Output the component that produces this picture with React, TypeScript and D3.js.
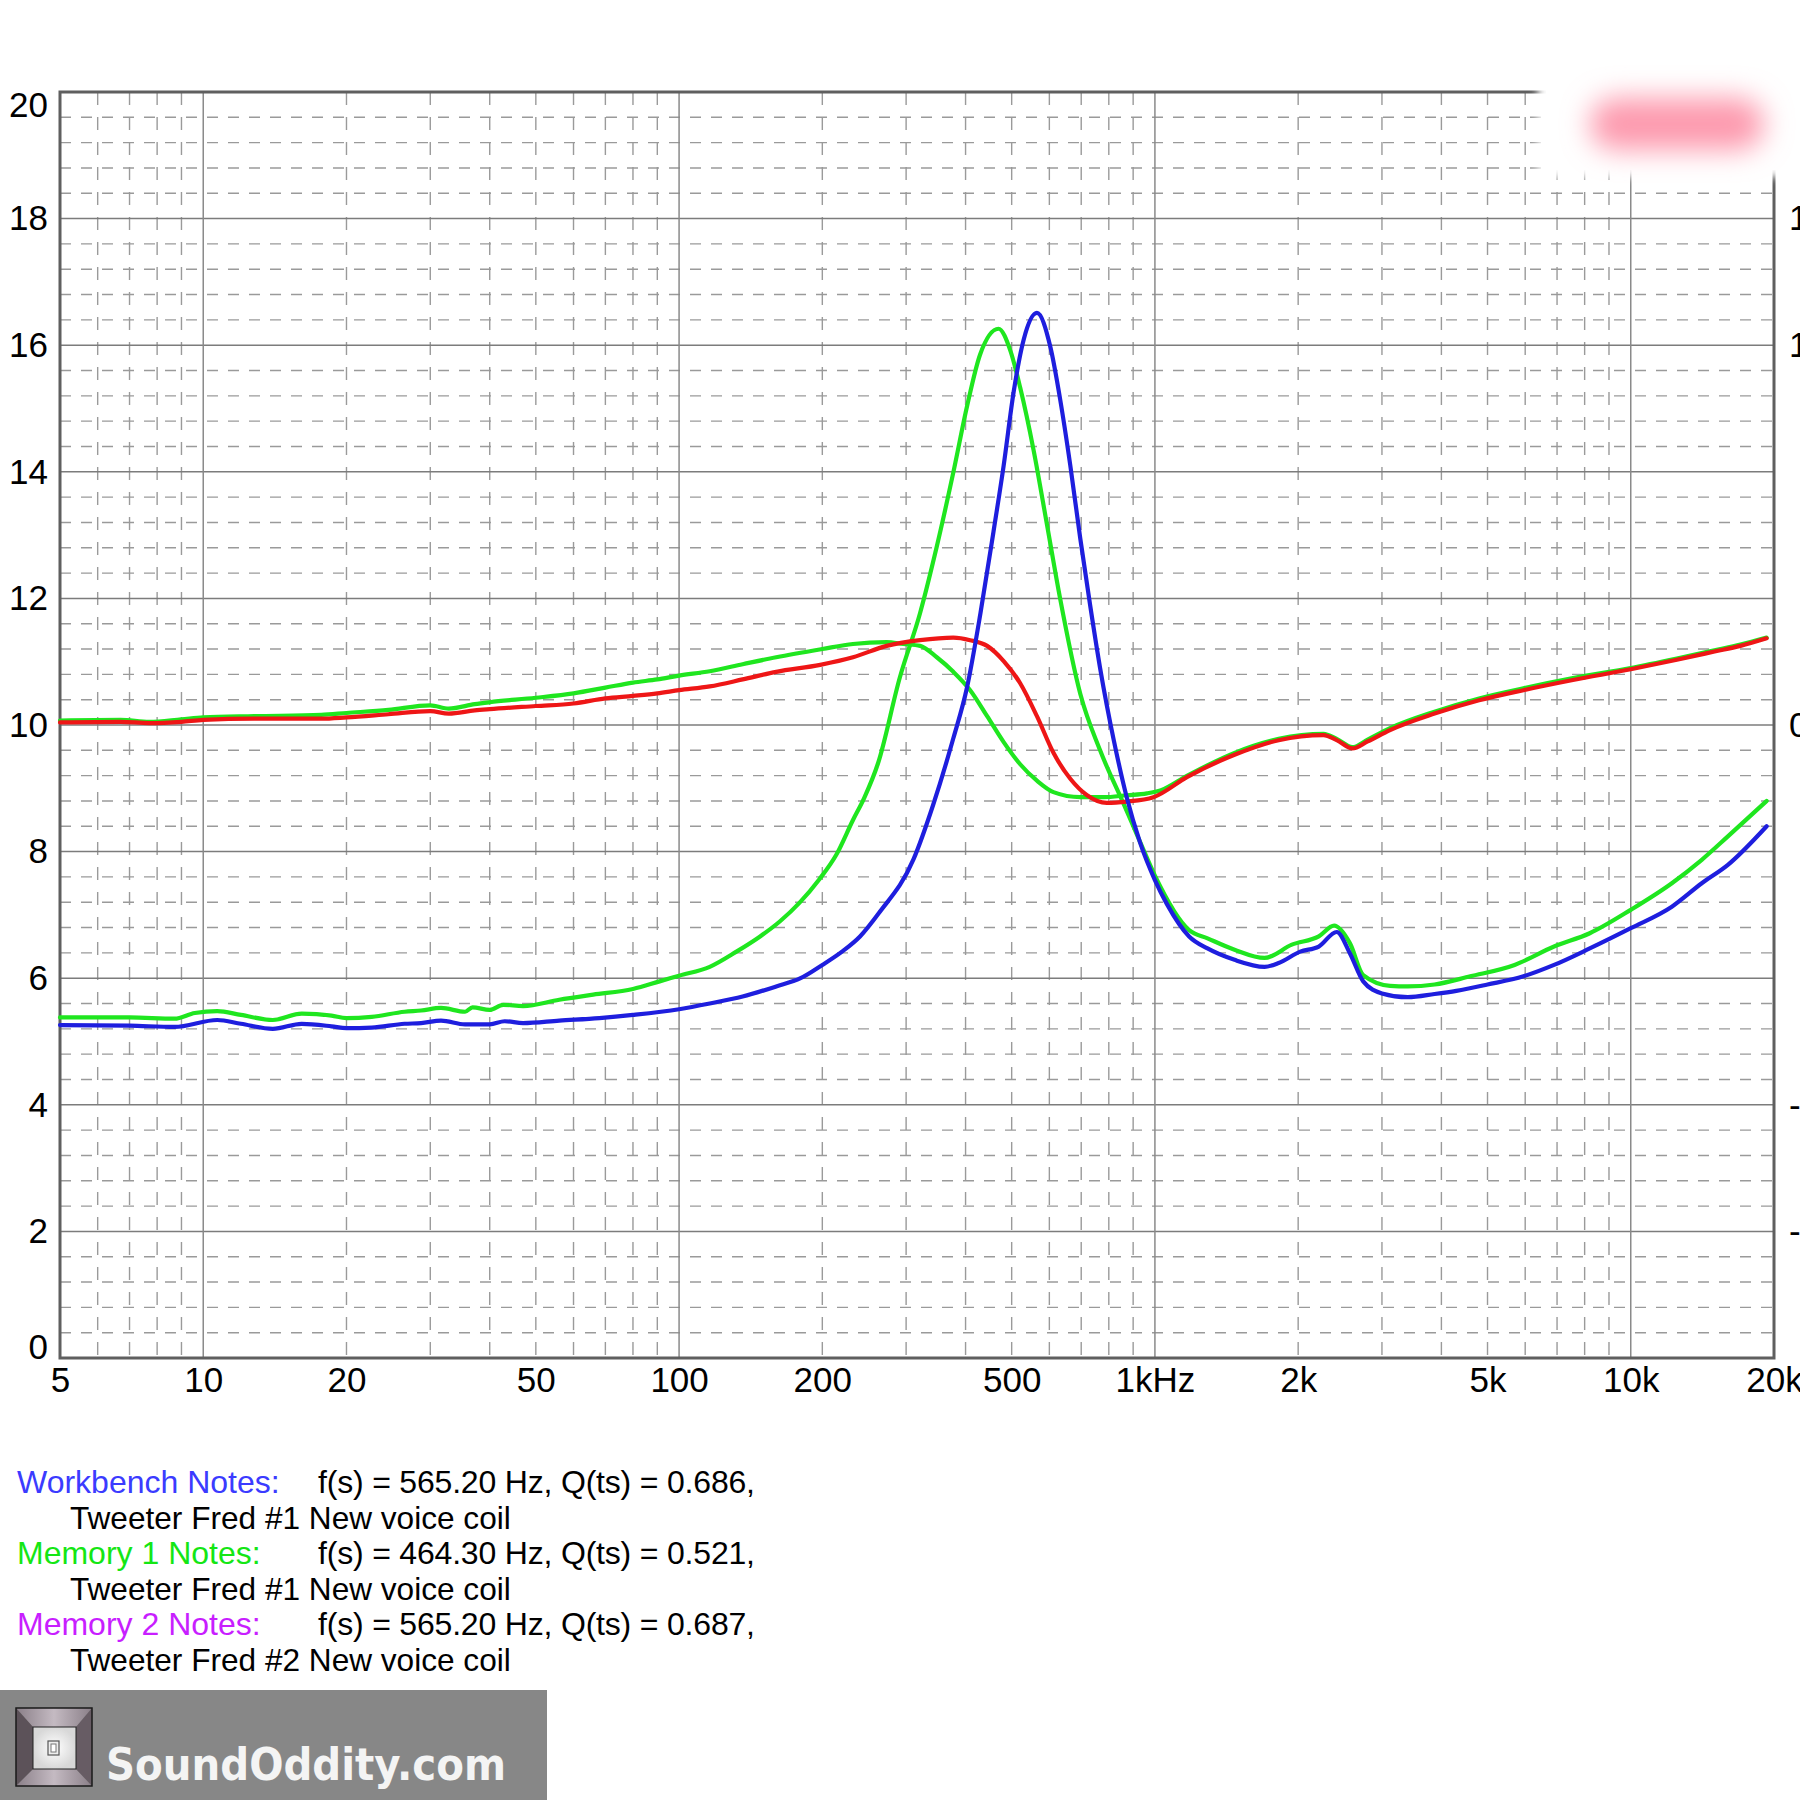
import React, { useRef, useEffect } from 'react';
import * as d3 from 'd3';

const WIDTH = 1800;
const HEIGHT = 1800;

// [frequency Hz, value]
const workbenchImpedance: [number, number][] = [
  [5, 5.26], [7, 5.25], [8.7, 5.23], [10.7, 5.34], [12, 5.28], [14, 5.2], [16.1, 5.28],
  [18.6, 5.24], [20, 5.21], [22.6, 5.22], [26.5, 5.28], [28.7, 5.29], [31.6, 5.33],
  [35.5, 5.27], [40, 5.27], [43, 5.32], [47, 5.29], [56, 5.33], [68, 5.37], [80, 5.42],
  [100, 5.51], [116, 5.6], [136, 5.71], [160, 5.87], [180, 6.0], [200, 6.21], [220, 6.42],
  [240, 6.66], [263, 7.03], [311, 7.88], [342, 8.74], [377, 9.79], [403, 10.6], [430, 11.77],
  [458, 13.06], [481, 14.1], [505, 15.27], [530, 16.09], [565, 16.51], [603, 15.97],
  [632, 15.15], [664, 14.1], [697, 12.94], [731, 11.89], [767, 10.9], [820, 9.75],
  [873, 8.85], [930, 8.15], [1000, 7.55], [1060, 7.17], [1180, 6.66], [1290, 6.47],
  [1470, 6.29], [1700, 6.18], [1820, 6.24], [2020, 6.42], [2210, 6.5], [2410, 6.73],
  [2570, 6.39], [2740, 5.95], [3000, 5.76], [3400, 5.7], [3870, 5.75], [4300, 5.8],
  [5000, 5.9], [5950, 6.03], [6900, 6.21], [8200, 6.47], [10000, 6.79], [12200, 7.13],
  [14100, 7.5], [16000, 7.79], [19300, 8.4],
];

const memory1Impedance: [number, number][] = [
  [5, 5.38], [7, 5.38], [8.7, 5.36], [9.6, 5.45], [10.7, 5.48], [12, 5.42], [14, 5.34],
  [16.1, 5.44], [18.6, 5.41], [20, 5.37], [22.6, 5.39], [26.5, 5.47], [28.7, 5.49],
  [31.6, 5.53], [35.5, 5.47], [36.8, 5.54], [40, 5.5], [42.7, 5.58], [47, 5.56], [56, 5.66],
  [66, 5.74], [80, 5.83], [91, 5.95], [100, 6.04], [116, 6.18], [132, 6.42], [148, 6.66],
  [163, 6.9], [179, 7.19], [197, 7.56], [214, 7.95], [232, 8.5], [245, 8.85], [262, 9.4],
  [291, 10.75], [321, 11.77], [348, 12.82], [377, 13.99], [403, 15.04], [429, 15.85],
  [469, 16.26], [497, 15.91], [521, 15.33], [556, 14.34], [593, 13.17], [632, 12.0],
  [697, 10.49], [767, 9.6], [860, 8.75], [931, 8.15], [1000, 7.62], [1180, 6.76],
  [1290, 6.63], [1470, 6.45], [1700, 6.32], [1940, 6.53], [2210, 6.66], [2380, 6.83],
  [2570, 6.55], [2740, 6.05], [3120, 5.88], [3400, 5.87], [3870, 5.9], [4600, 6.03],
  [5700, 6.21], [6900, 6.5], [8200, 6.71], [10000, 7.08], [12200, 7.5], [14100, 7.87],
  [16000, 8.24], [19300, 8.8],
];

const memory1Upper: [number, number][] = [
  [5, 10.07], [6.7, 10.08], [7.7, 10.05], [9, 10.09], [10, 10.12], [12.8, 10.14],
  [17.7, 10.16], [20, 10.19], [24.5, 10.24], [30, 10.31], [32.8, 10.26], [37.2, 10.33],
  [40, 10.36], [50, 10.43], [60, 10.5], [70, 10.59], [80, 10.67], [90, 10.72], [100, 10.78],
  [116, 10.85], [136, 10.96], [160, 11.07], [200, 11.2], [232, 11.28], [273, 11.31],
  [296, 11.28], [321, 11.25], [348, 11.07], [377, 10.84], [409, 10.55], [444, 10.14],
  [481, 9.73], [521, 9.38], [565, 9.12], [612, 8.94], [697, 8.86], [780, 8.86], [873, 8.89],
  [962, 8.92], [1030, 8.97], [1170, 9.2], [1470, 9.56], [1820, 9.78], [2260, 9.86],
  [2410, 9.78], [2600, 9.65], [2800, 9.77], [3120, 9.95], [3870, 10.21], [4800, 10.42],
  [5950, 10.58], [7560, 10.74], [10000, 10.9], [12500, 11.05], [15000, 11.18],
  [17000, 11.27], [19300, 11.38],
];

const workbenchUpper: [number, number][] = [
  [5, 10.04], [6.7, 10.05], [7.7, 10.03], [9, 10.05], [10, 10.08], [12.8, 10.1],
  [17.7, 10.1], [20, 10.12], [24.5, 10.17], [30, 10.22], [32.8, 10.18], [37.2, 10.23],
  [40, 10.25], [50, 10.3], [60, 10.34], [70, 10.42], [80, 10.46], [90, 10.5], [100, 10.55],
  [116, 10.61], [136, 10.72], [160, 10.84], [198, 10.95], [232, 11.07], [273, 11.25],
  [321, 11.34], [377, 11.38], [409, 11.34], [444, 11.25], [481, 11.01], [521, 10.66],
  [565, 10.14], [612, 9.56], [664, 9.15], [720, 8.89], [792, 8.77], [873, 8.79], [993, 8.86],
  [1170, 9.18], [1470, 9.53], [1820, 9.76], [2260, 9.84], [2410, 9.76], [2600, 9.63],
  [2800, 9.74], [3120, 9.92], [3870, 10.18], [4800, 10.39], [5950, 10.55], [7560, 10.71],
  [10000, 10.88], [12500, 11.03], [15000, 11.16], [17000, 11.25], [19300, 11.37],
];

const xTickValues = [5, 10, 20, 50, 100, 200, 500, 1000, 2000, 5000, 10000, 20000];
const xTickLabels = ['5', '10', '20', '50', '100', '200', '500', '1kHz', '2k', '5k', '10k', '20k'];
const yTickValues = [0, 2, 4, 6, 8, 10, 12, 14, 16, 18, 20];
const rightTickValues = [18, 16, 10, 4, 2];
const rightTickLabels = ['1', '1', '0', '-', '-'];

const noteTitles = ['Workbench Notes:', 'Memory 1 Notes:', 'Memory 2 Notes:'];
const noteParams = [
  'f(s) = 565.20 Hz, Q(ts) = 0.686,',
  'f(s) = 464.30 Hz, Q(ts) = 0.521,',
  'f(s) = 565.20 Hz, Q(ts) = 0.687,',
];
const noteDescriptions = [
  'Tweeter Fred #1 New voice coil',
  'Tweeter Fred #1 New voice coil',
  'Tweeter Fred #2 New voice coil',
];

const NOTE_COLORS = ['#3b3bff', '#14e614', '#c81eff'];
const FONT = "'Liberation Sans', Arial, sans-serif";

const App: React.FC = () => {
  const svgRef = useRef<SVGSVGElement>(null);

  useEffect(() => {
    document.body.style.margin = '0';
    const svg = d3.select(svgRef.current);
    svg.selectAll('*').remove();

    const left = 60;
    const right = 1774;
    const top = 92;
    const bottom = 1358;

    const x = d3.scaleLog().domain([5, 20000]).range([left, right]);
    const y = d3.scaleLinear().domain([0, 20]).range([bottom, top]);

    svg.append('rect').attr('width', WIDTH).attr('height', HEIGHT).attr('fill', '#fff');

    const defs = svg.append('defs');
    defs.append('filter').attr('id', 'blurSoft').attr('x', '-60%').attr('y', '-80%')
      .attr('width', '220%').attr('height', '260%')
      .append('feGaussianBlur').attr('stdDeviation', 14);
    defs.append('filter').attr('id', 'blurEdge').attr('x', '-20%').attr('y', '-20%')
      .attr('width', '140%').attr('height', '140%')
      .append('feGaussianBlur').attr('stdDeviation', 4);
    const topGrad = defs.append('linearGradient').attr('id', 'bevelTop');
    topGrad.append('stop').attr('offset', '0%').attr('stop-color', '#8a7f88');
    topGrad.append('stop').attr('offset', '50%').attr('stop-color', '#c4bac2');
    topGrad.append('stop').attr('offset', '100%').attr('stop-color', '#8a7f88');
    const innerGrad = defs.append('radialGradient').attr('id', 'innerFace');
    innerGrad.append('stop').attr('offset', '0%').attr('stop-color', '#ffffff');
    innerGrad.append('stop').attr('offset', '100%').attr('stop-color', '#d8d8d8');

    // grid
    const grid = svg.append('g');
    const minorY = d3.range(1, 50).filter(i => i % 5 !== 0).map(i => i * 0.4);
    grid.selectAll('.hminor').data(minorY).enter().append('line')
      .attr('x1', left).attr('x2', right)
      .attr('y1', d => y(d)).attr('y2', d => y(d))
      .attr('stroke', '#9a9a9a').attr('stroke-width', 1.4)
      .attr('stroke-dasharray', '11 10');

    const minorX = [1, 10, 100, 1000]
      .flatMap(dec => d3.range(2, 10).map(m => m * dec))
      .filter(f => f > 5 && f < 20000);
    grid.selectAll('.vminor').data(minorX).enter().append('line')
      .attr('x1', d => x(d)).attr('x2', d => x(d))
      .attr('y1', top).attr('y2', bottom)
      .attr('stroke', '#9a9a9a').attr('stroke-width', 1.4)
      .attr('stroke-dasharray', '13 12');

    const majorY = d3.range(1, 10).map(i => i * 2);
    grid.selectAll('.hmajor').data(majorY).enter().append('line')
      .attr('x1', left).attr('x2', right)
      .attr('y1', d => y(d)).attr('y2', d => y(d))
      .attr('stroke', '#7c7c7c').attr('stroke-width', 1.5);

    grid.selectAll('.vmajor').data([10, 100, 1000, 10000]).enter().append('line')
      .attr('x1', d => x(d)).attr('x2', d => x(d))
      .attr('y1', top).attr('y2', bottom)
      .attr('stroke', '#8a8a8a').attr('stroke-width', 1.5);

    svg.append('rect')
      .attr('x', left).attr('y', top)
      .attr('width', right - left).attr('height', bottom - top)
      .attr('fill', 'none').attr('stroke', '#5f5f5f').attr('stroke-width', 3);

    // curves
    const line = d3.line<[number, number]>()
      .x(d => x(d[0]))
      .y(d => y(d[1]))
      .curve(d3.curveMonotoneX);

    const series: { data: [number, number][]; color: string }[] = [
      { data: memory1Impedance, color: '#1fe61f' },
      { data: memory1Upper, color: '#1fe61f' },
      { data: workbenchUpper, color: '#ee1616' },
      { data: workbenchImpedance, color: '#1e1ede' },
    ];
    svg.append('g').selectAll('path').data(series).enter().append('path')
      .attr('d', d => line(d.data) || '')
      .attr('fill', 'none')
      .attr('stroke', d => d.color)
      .attr('stroke-width', 4.2)
      .attr('stroke-linejoin', 'round')
      .attr('stroke-linecap', 'round');

    // axes
    const xLabel = new Map(xTickValues.map((v, i) => [v, xTickLabels[i]]));
    const gx = svg.append('g')
      .attr('transform', `translate(0,${bottom})`)
      .call(
        d3.axisBottom(x)
          .tickValues(xTickValues)
          .tickFormat(d => xLabel.get(d as number) || '')
          .tickSize(0)
          .tickPadding(0)
      );
    gx.select('.domain').remove();
    gx.attr('font-family', FONT).attr('font-size', 35);
    gx.selectAll('text').attr('y', 34).attr('dy', null).attr('fill', '#000');

    const gy = svg.append('g')
      .attr('transform', 'translate(48,0)')
      .call(d3.axisLeft(y).tickValues(yTickValues).tickSize(0).tickPadding(0));
    gy.select('.domain').remove();
    gy.attr('font-family', FONT).attr('font-size', 35);
    gy.selectAll<SVGTextElement, number>('text')
      .attr('dy', d => (d === 20 ? '0.71em' : d === 0 ? '0' : '0.32em'))
      .attr('fill', '#000');

    // right-hand axis, mostly cut off by the picture edge as in the reference
    const rightLabel = new Map(rightTickValues.map((v, i) => [v, rightTickLabels[i]]));
    const gr = svg.append('g')
      .attr('transform', 'translate(1789,0)')
      .call(
        d3.axisRight(y)
          .tickValues(rightTickValues)
          .tickFormat(d => rightLabel.get(d as number) || '')
          .tickSize(0)
          .tickPadding(0)
      );
    gr.select('.domain').remove();
    gr.attr('font-family', FONT).attr('font-size', 35);
    gr.selectAll('text').attr('fill', '#000');

    // blurred legend box at top right
    svg.append('rect')
      .attr('x', 1538).attr('y', 42).attr('width', 275).attr('height', 135)
      .attr('fill', '#fff').attr('filter', 'url(#blurEdge)');
    svg.append('rect')
      .attr('x', 1546).attr('y', 52).attr('width', 254).attr('height', 118)
      .attr('fill', '#fff');
    svg.append('rect')
      .attr('x', 1590).attr('y', 98).attr('width', 174).attr('height', 52).attr('rx', 26)
      .attr('fill', '#fd9aae').attr('filter', 'url(#blurSoft)');

    // notes
    const notes = svg.append('g').attr('font-family', FONT).attr('font-size', 32);
    noteTitles.forEach((title, i) => {
      const base = 1493 + i * 71;
      notes.append('text').attr('x', 17).attr('y', base).attr('fill', NOTE_COLORS[i]).text(title);
      notes.append('text').attr('x', 318).attr('y', base).attr('fill', '#000')
        .attr('textLength', 437).attr('lengthAdjust', 'spacing')
        .text(noteParams[i]);
      notes.append('text').attr('x', 70).attr('y', base + 36).attr('fill', '#000')
        .attr('font-size', 31.6)
        .text(noteDescriptions[i]);
    });

    // logo banner
    const logo = svg.append('g');
    logo.append('rect').attr('x', 0).attr('y', 1690).attr('width', 547).attr('height', 110)
      .attr('fill', '#878787');
    const ox = 16, oy = 1708, ow = 76, oh = 78;
    const ix = 33, iy = 1727, iw = 43, ih = 42;
    const pts = (p: number[][]) => p.map(q => q.join(',')).join(' ');
    logo.append('polygon')
      .attr('points', pts([[ox, oy], [ox + ow, oy], [ix + iw, iy], [ix, iy]]))
      .attr('fill', 'url(#bevelTop)');
    logo.append('polygon')
      .attr('points', pts([[ox, oy + oh], [ox + ow, oy + oh], [ix + iw, iy + ih], [ix, iy + ih]]))
      .attr('fill', 'url(#bevelTop)');
    logo.append('polygon')
      .attr('points', pts([[ox, oy], [ix, iy], [ix, iy + ih], [ox, oy + oh]]))
      .attr('fill', '#5c5259');
    logo.append('polygon')
      .attr('points', pts([[ox + ow, oy], [ix + iw, iy], [ix + iw, iy + ih], [ox + ow, oy + oh]]))
      .attr('fill', '#675c64');
    logo.append('rect').attr('x', ix).attr('y', iy).attr('width', iw).attr('height', ih)
      .attr('fill', 'url(#innerFace)').attr('stroke', '#222').attr('stroke-width', 1);
    logo.append('rect').attr('x', ox).attr('y', oy).attr('width', ow).attr('height', oh)
      .attr('fill', 'none').attr('stroke', '#1a1a1a').attr('stroke-width', 1.5);
    logo.append('rect').attr('x', 48).attr('y', 1741).attr('width', 11).attr('height', 14)
      .attr('fill', '#eee').attr('stroke', '#555').attr('stroke-width', 1.2);
    logo.append('rect').attr('x', 51).attr('y', 1744).attr('width', 5).attr('height', 8)
      .attr('fill', '#fff').attr('stroke', '#777').attr('stroke-width', 1);
    logo.append('text')
      .attr('x', 106).attr('y', 1780)
      .attr('font-family', "'DejaVu Sans', sans-serif")
      .attr('font-weight', 'bold')
      .attr('font-size', 44)
      .attr('fill', '#f4f4f4')
      .attr('textLength', 400)
      .attr('lengthAdjust', 'spacingAndGlyphs')
      .text('SoundOddity.com');
  }, []);

  return (
    <svg
      ref={svgRef}
      width={WIDTH}
      height={HEIGHT}
      viewBox={`0 0 ${WIDTH} ${HEIGHT}`}
      style={{ position: 'absolute', left: 0, top: 0, display: 'block' }}
    />
  );
};

export default App;
